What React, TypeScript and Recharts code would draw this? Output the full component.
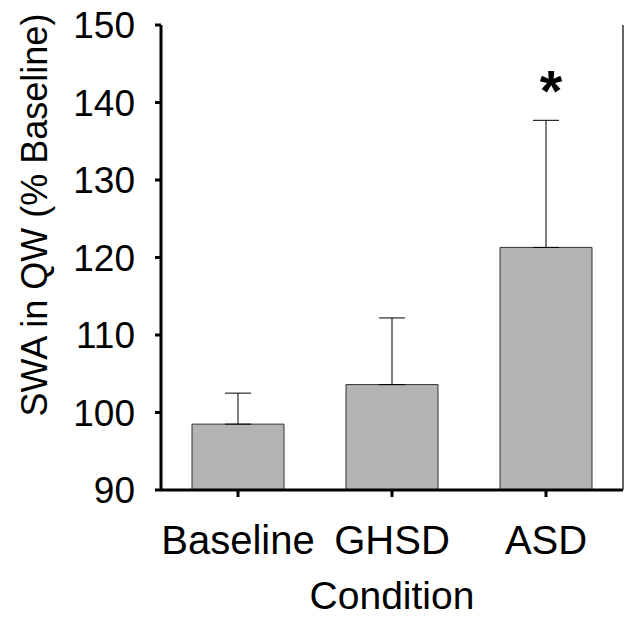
import React from "react"
import { BarChart, Bar, XAxis, YAxis, ErrorBar, LabelList } from "recharts"

const categories = ["Baseline", "GHSD", "ASD"]
const means = [98.5, 103.6, 121.3]
const sem = [4.0, 8.6, 16.4]
const marks = ["", "", "*"]
const yTicks = [90, 100, 110, 120, 130, 140, 150]
const Y_MIN = 90

const FONT = "'Liberation Sans', Arial, sans-serif"

const data = categories.map((name, i) => ({
  name,
  value: means[i],
  err: [0, sem[i]],
  mark: marks[i],
}))

// significance star sits just above the top of the error bar
function StarLabel(props: any) {
  const { x, y, width, height, value, index } = props
  if (!value) return null
  const pxPerUnit = height / (means[index] - Y_MIN)
  const errTop = y - sem[index] * pxPerUnit
  return (
    <text
      x={x + width / 2 + 5}
      y={errTop - 9}
      textAnchor="middle"
      fontFamily={FONT}
      fontWeight="bold"
      fontSize={58}
      fill="#000"
    >
      {value}
    </text>
  )
}

function YTitle() {
  return (
    <text
      x={47}
      y={215}
      transform="rotate(-90, 47, 215)"
      textAnchor="middle"
      fontFamily={FONT}
      fontSize={36}
      fill="#000"
    >
      SWA in QW (% Baseline)
    </text>
  )
}

function XTitle(props: any) {
  const { viewBox } = props
  return (
    <text
      x={viewBox.x + viewBox.width / 2}
      y={609}
      textAnchor="middle"
      fontFamily={FONT}
      fontSize={39}
      fill="#000"
    >
      Condition
    </text>
  )
}

export default function App() {
  return (
    <div style={{ position: "absolute", left: 0, top: 0, background: "#fff" }}>
      <BarChart
        width={624}
        height={617}
        data={data}
        margin={{ top: 25, right: 0, bottom: 0, left: 0 }}
        barSize={92}
      >
        <XAxis
          dataKey="name"
          height={127}
          tickSize={7}
          tickMargin={29}
          axisLine={{ stroke: "#000", strokeWidth: 3 }}
          tickLine={{ stroke: "#000", strokeWidth: 3 }}
          tick={{ fill: "#000", fontSize: 40, fontFamily: FONT }}
          label={<XTitle />}
        />
        <XAxis
          xAxisId="top"
          orientation="top"
          dataKey="name"
          height={0}
          tick={false}
          tickLine={false}
          axisLine={{ stroke: "#000", strokeWidth: 3 }}
        />
        <YAxis
          domain={[90, 150]}
          ticks={yTicks}
          width={161}
          tickSize={6}
          tickMargin={20}
          interval={0}
          axisLine={{ stroke: "#000", strokeWidth: 3 }}
          tickLine={{ stroke: "#000", strokeWidth: 3 }}
          tick={{ fill: "#000", fontSize: 37, fontFamily: FONT }}
          label={<YTitle />}
        />
        <YAxis
          yAxisId="right"
          orientation="right"
          domain={[90, 150]}
          width={1}
          tick={false}
          tickLine={false}
          axisLine={{ stroke: "#333", strokeWidth: 1.5 }}
        />
        <Bar
          dataKey="value"
          fill="#b3b3b3"
          stroke="#333"
          strokeWidth={1}
          isAnimationActive={false}
        >
          <ErrorBar
            dataKey="err"
            width={13}
            stroke="#000"
            strokeWidth={1}
            direction="y"
            isAnimationActive={false}
          />
          <LabelList dataKey="mark" content={<StarLabel />} />
        </Bar>
      </BarChart>
    </div>
  )
}
